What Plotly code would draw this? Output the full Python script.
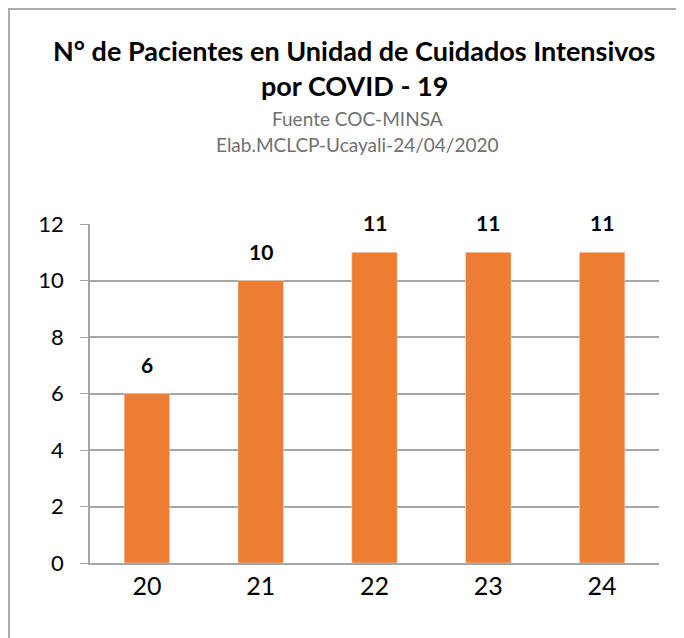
import plotly.graph_objects as go

dias = ['20', '21', '22', '23', '24']
pacientes = [6, 10, 11, 11, 11]
y_ticks = [0, 2, 4, 6, 8, 10, 12]

W, H = 684, 638
OFF = 8  # la página desplaza la figura unos 8 px
L, R, T, B = 90 - OFF, 25 + OFF, 224 - OFF, 75 + OFF
pw, ph = W - L - R, H - T - B


def px_x(px):
    return (px - OFF - L) / pw


def px_y(py):
    return (H - B - (py - OFF)) / ph


fig = go.Figure()
fig.add_trace(go.Bar(x=dias, y=pacientes, marker_color='#ED7D31', width=0.4,
                     showlegend=False, hoverinfo='x+y'))

# etiquetas de datos (posición de categoría por índice)
annotations = [dict(x=i, y=v, text='<b>%d</b>' % v, showarrow=False, yanchor='bottom',
                    yshift=15, font=dict(size=21, color='black', family='Lato'))
               for i, v in enumerate(pacientes)]
titulos = [
    ('<b>N° de Pacientes en Unidad de Cuidados Intensivos</b>', 354, 50, 27, 'black'),
    ('<b>por COVID - 19</b>', 354, 85, 27, 'black'),
    ('Fuente COC-MINSA', 357, 119, 19, '#707070'),
    ('Elab.MCLCP-Ucayali-24/04/2020', 357, 144, 19, '#707070'),
]
for texto, x, y, size, color in titulos:
    annotations.append(dict(x=px_x(x), y=px_y(y), xref='paper', yref='paper', showarrow=False,
                            xanchor='center', yanchor='middle', text=texto,
                            font=dict(size=size, color=color, family='Lato')))

fig.add_shape(type='rect', xref='paper', yref='paper',
              x0=px_x(9), x1=px_x(720), y0=px_y(700), y1=px_y(9),
              line=dict(color='#ABABAB', width=2), fillcolor='rgba(0,0,0,0)', layer='below')

fig.update_layout(
    width=W, height=H, margin=dict(l=L, r=R, t=T, b=B),
    plot_bgcolor='white', paper_bgcolor='white',
    annotations=annotations,
    font=dict(family='Lato', color='black'),
    xaxis=dict(type='category', range=[-0.5, len(dias) - 0.5], showline=True,
               linecolor='#A6A6A6', linewidth=1.5, ticks='', tickfont=dict(size=25),
               showgrid=False),
    yaxis=dict(range=[0, 12], tickvals=y_ticks, showline=True, linecolor='#A6A6A6',
               linewidth=1.5, ticks='outside', ticklen=8, tickcolor='#A6A6A6',
               showgrid=True, gridcolor='#A6A6A6', gridwidth=1.5, zeroline=False,
               tickfont=dict(size=22), ticklabelstandoff=12),
)

fig.write_html('out.html')
